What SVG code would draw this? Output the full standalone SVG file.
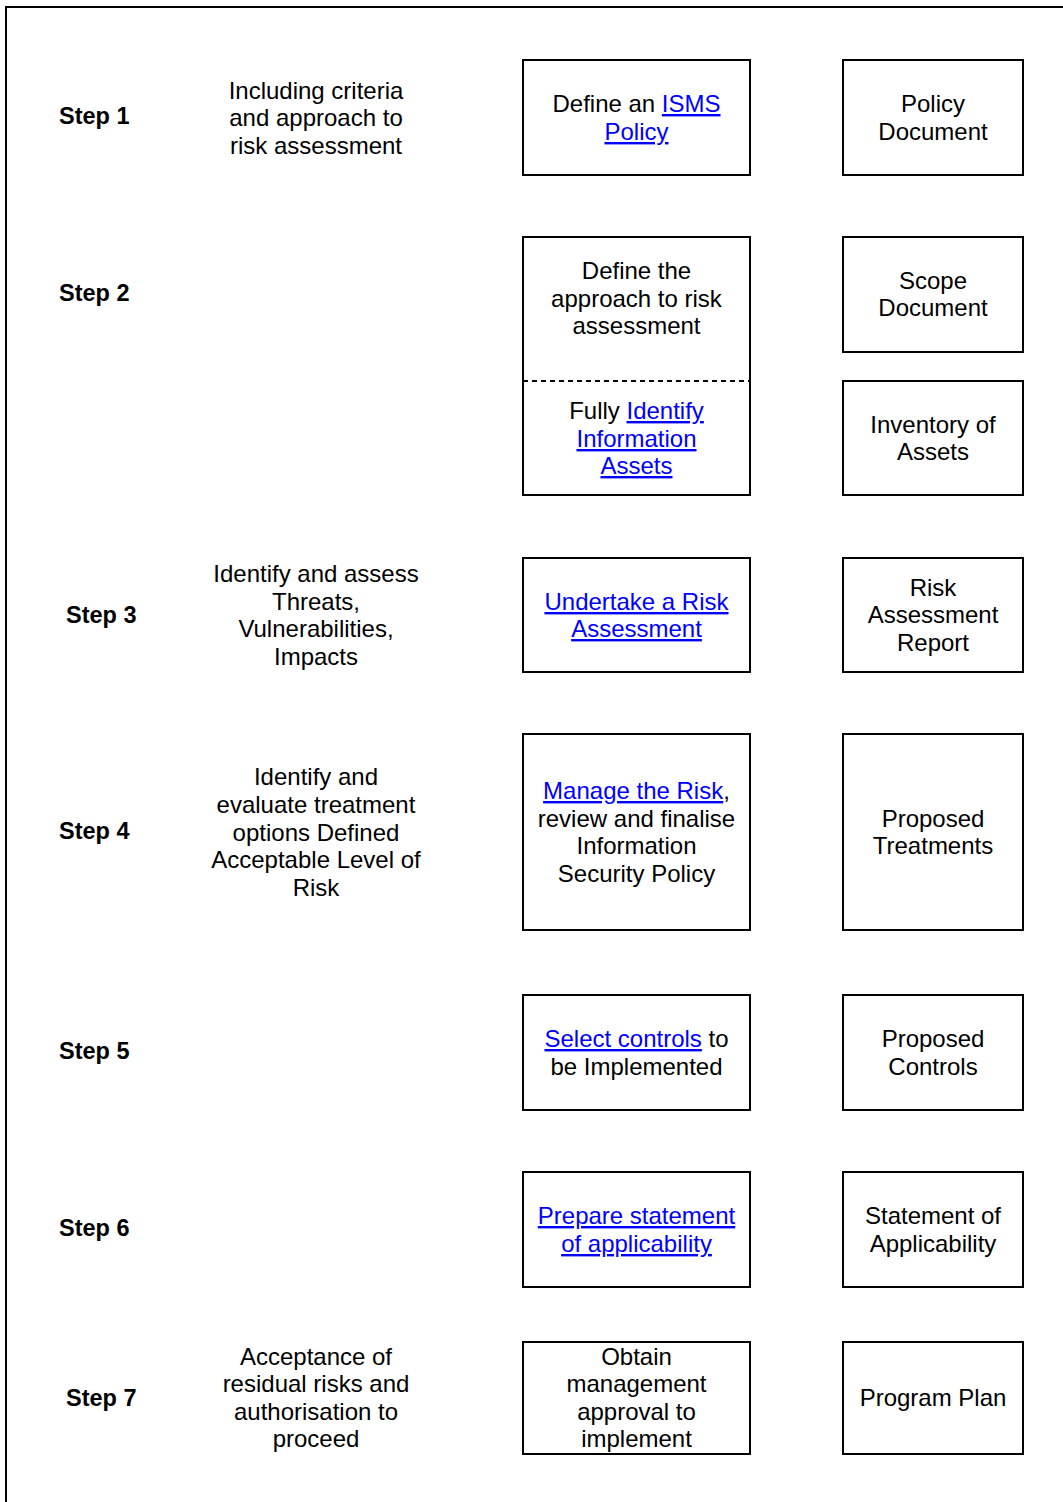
<svg xmlns="http://www.w3.org/2000/svg" width="1063" height="1502" viewBox="0 0 1063 1502">
  <style>
    .frame { fill: none; stroke: #000; stroke-width: 2; }
    .box { fill: #fff; stroke: #000; stroke-width: 2; }
    .split { stroke: #000; stroke-width: 2; stroke-dasharray: 5 4; }
    text { font-family: "Liberation Sans", Arial, sans-serif; font-size: 24px; fill: #000; text-anchor: middle; }
    .step { font-weight: bold; font-size: 23.5px; text-anchor: start; }
    .link { fill: #0000ff; text-decoration: underline; }
  </style>
  <rect width="1063" height="1502" fill="#fff"/>
  <!-- outer frame, runs off the right and bottom edges -->
  <rect class="frame" x="6" y="7" width="1100" height="1540"/>

  <!-- Step 1 -->
  <g id="step1">
    <text class="step" x="59" y="124">Step 1</text>
    <text><tspan x="316" y="99">Including criteria</tspan><tspan x="316" y="126">and approach to</tspan><tspan x="316" y="154">risk assessment</tspan></text>
  </g>
  <g id="isms-policy">
    <rect class="box" x="523" y="60" width="227" height="115"/>
    <text><tspan x="636.5" y="112">Define an <tspan class="link">ISMS</tspan></tspan><tspan x="636.5" y="140" class="link">Policy</tspan></text>
  </g>
  <g id="policy-document">
    <rect class="box" x="843" y="60" width="180" height="115"/>
    <text><tspan x="933" y="112">Policy</tspan><tspan x="933" y="140">Document</tspan></text>
  </g>

  <!-- Step 2 -->
  <g id="step2">
    <text class="step" x="59" y="301">Step 2</text>
  </g>
  <g id="approach-and-assets">
    <rect class="box" x="523" y="237" width="227" height="258"/>
    <line class="split" x1="523" y1="381" x2="750" y2="381"/>
    <text><tspan x="636.5" y="279">Define the</tspan><tspan x="636.5" y="307">approach to risk</tspan><tspan x="636.5" y="334">assessment</tspan></text>
    <text><tspan x="636.5" y="419">Fully <tspan class="link">Identify</tspan></tspan><tspan x="636.5" y="447" class="link">Information</tspan><tspan x="636.5" y="474" class="link">Assets</tspan></text>
  </g>
  <g id="scope-document">
    <rect class="box" x="843" y="237" width="180" height="115"/>
    <text><tspan x="933" y="289">Scope</tspan><tspan x="933" y="316">Document</tspan></text>
  </g>
  <g id="inventory-of-assets">
    <rect class="box" x="843" y="381" width="180" height="114"/>
    <text><tspan x="933" y="433">Inventory of</tspan><tspan x="933" y="460">Assets</tspan></text>
  </g>

  <!-- Step 3 -->
  <g id="step3">
    <text class="step" x="66" y="623">Step 3</text>
    <text><tspan x="316" y="582">Identify and assess</tspan><tspan x="316" y="610">Threats,</tspan><tspan x="316" y="637">Vulnerabilities,</tspan><tspan x="316" y="665">Impacts</tspan></text>
  </g>
  <g id="risk-assessment">
    <rect class="box" x="523" y="558" width="227" height="114"/>
    <text class="link"><tspan x="636.5" y="610">Undertake a Risk</tspan><tspan x="636.5" y="637">Assessment</tspan></text>
  </g>
  <g id="risk-assessment-report">
    <rect class="box" x="843" y="558" width="180" height="114"/>
    <text><tspan x="933" y="596">Risk</tspan><tspan x="933" y="623">Assessment</tspan><tspan x="933" y="651">Report</tspan></text>
  </g>

  <!-- Step 4 -->
  <g id="step4">
    <text class="step" x="59" y="839">Step 4</text>
    <text><tspan x="316" y="785">Identify and</tspan><tspan x="316" y="813">evaluate treatment</tspan><tspan x="316" y="841">options Defined</tspan><tspan x="316" y="868">Acceptable Level of</tspan><tspan x="316" y="896">Risk</tspan></text>
  </g>
  <g id="manage-risk">
    <rect class="box" x="523" y="734" width="227" height="196"/>
    <text><tspan x="636.5" y="799"><tspan class="link">Manage the Risk</tspan>,</tspan><tspan x="636.5" y="827">review and finalise</tspan><tspan x="636.5" y="854">Information</tspan><tspan x="636.5" y="882">Security Policy</tspan></text>
  </g>
  <g id="proposed-treatments">
    <rect class="box" x="843" y="734" width="180" height="196"/>
    <text><tspan x="933" y="827">Proposed</tspan><tspan x="933" y="854">Treatments</tspan></text>
  </g>

  <!-- Step 5 -->
  <g id="step5">
    <text class="step" x="59" y="1059">Step 5</text>
  </g>
  <g id="select-controls">
    <rect class="box" x="523" y="995" width="227" height="115"/>
    <text><tspan x="636.5" y="1047"><tspan class="link">Select controls</tspan> to</tspan><tspan x="636.5" y="1075">be Implemented</tspan></text>
  </g>
  <g id="proposed-controls">
    <rect class="box" x="843" y="995" width="180" height="115"/>
    <text><tspan x="933" y="1047">Proposed</tspan><tspan x="933" y="1075">Controls</tspan></text>
  </g>

  <!-- Step 6 -->
  <g id="step6">
    <text class="step" x="59" y="1236">Step 6</text>
  </g>
  <g id="prepare-soa">
    <rect class="box" x="523" y="1172" width="227" height="115"/>
    <text class="link"><tspan x="636.5" y="1224">Prepare statement</tspan><tspan x="636.5" y="1252">of applicability</tspan></text>
  </g>
  <g id="statement-of-applicability">
    <rect class="box" x="843" y="1172" width="180" height="115"/>
    <text><tspan x="933" y="1224">Statement of</tspan><tspan x="933" y="1252">Applicability</tspan></text>
  </g>

  <!-- Step 7 -->
  <g id="step7">
    <text class="step" x="66" y="1406">Step 7</text>
    <text><tspan x="316" y="1365">Acceptance of</tspan><tspan x="316" y="1392">residual risks and</tspan><tspan x="316" y="1420">authorisation to</tspan><tspan x="316" y="1447">proceed</tspan></text>
  </g>
  <g id="management-approval">
    <rect class="box" x="523" y="1342" width="227" height="112"/>
    <text><tspan x="636.5" y="1365">Obtain</tspan><tspan x="636.5" y="1392">management</tspan><tspan x="636.5" y="1420">approval to</tspan><tspan x="636.5" y="1447">implement</tspan></text>
  </g>
  <g id="program-plan">
    <rect class="box" x="843" y="1342" width="180" height="112"/>
    <text><tspan x="933" y="1406">Program Plan</tspan></text>
  </g>
</svg>
